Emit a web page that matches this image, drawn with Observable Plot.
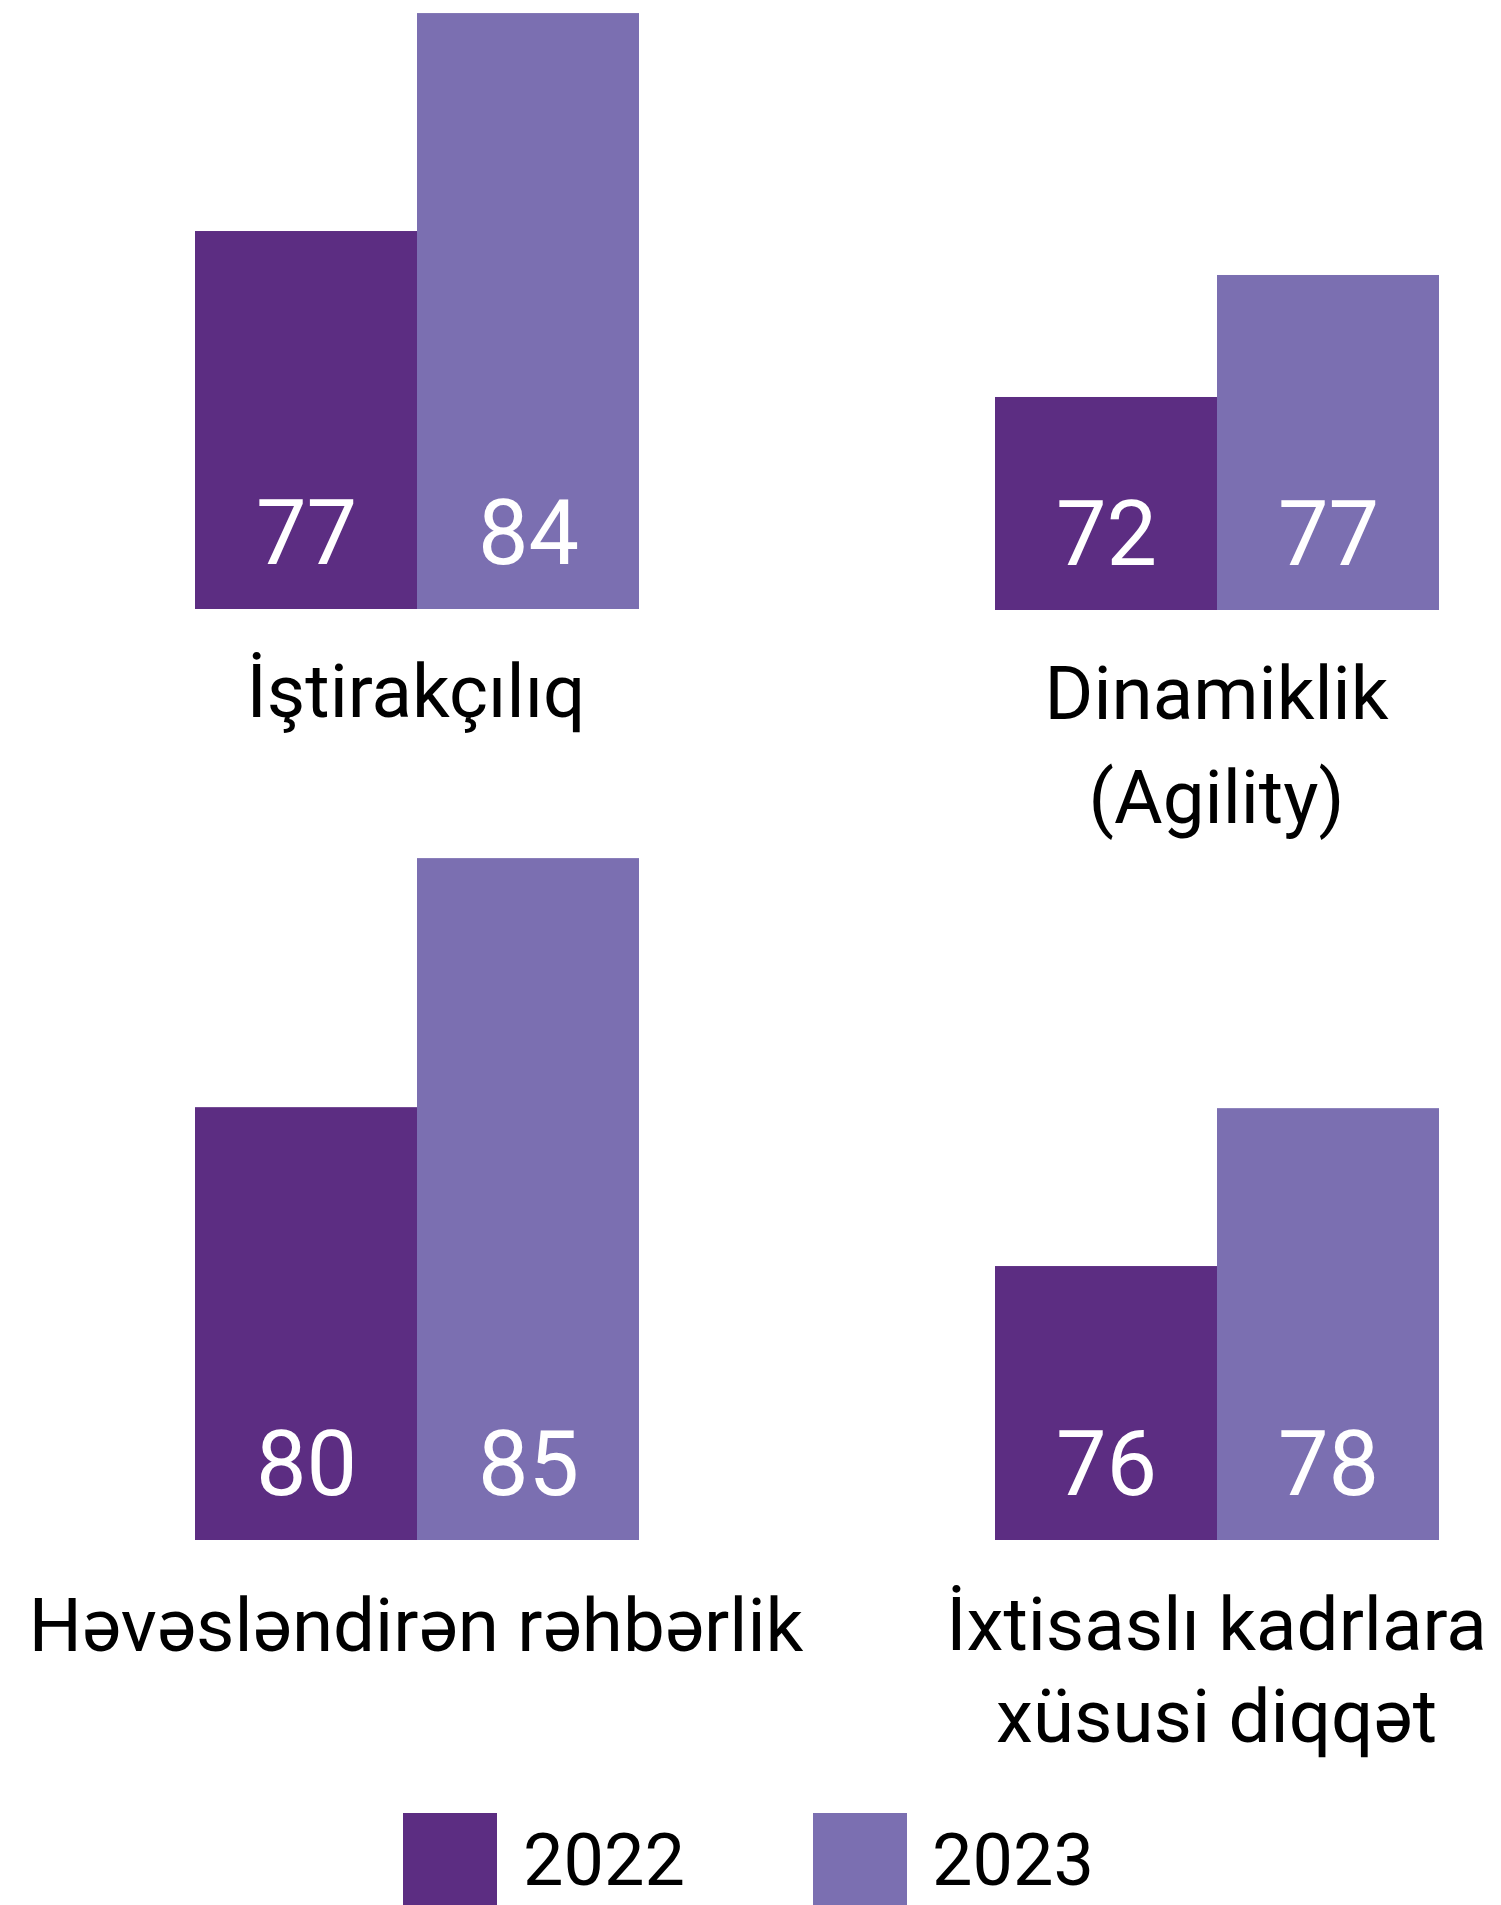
<!DOCTYPE html>
<html>
<head>
<meta charset="utf-8">
<script src="https://cdn.jsdelivr.net/npm/d3@7"></script>
<script src="https://cdn.jsdelivr.net/npm/@observablehq/plot@0.6"></script>
<style>
  html, body { margin: 0; padding: 0; background: #fff; }
  #page { position: relative; width: 1501px; height: 1905px; overflow: hidden; background: #fff;
          font-family: Roboto, "Noto Sans", sans-serif; color: #000; }
  .panel { position: absolute; }
  .label { position: absolute; width: 900px; text-align: center; font-size: 74.5px; white-space: pre; }
  .sw { position: absolute; width: 94px; height: 100px; }
  .lt { position: absolute; font-size: 72px; line-height: 80px; }
</style>
</head>
<body>
<div id="page"></div>
<script>
// ---- data ----
const categories = ["İştirakçılıq", "Dinamiklik\n(Agility)", "Həvəsləndirən rəhbərlik", "İxtisaslı kadrlara\nxüsusi diqqət"];
const years = ["2022", "2023"];
const values2022 = [77, 72, 80, 76];
const values2023 = [84, 77, 85, 78];
// each panel of the original uses its own (truncated) value axis
const yDomainMin = [64.86, 63.27, 71.31, 72.53];
const yDomainMax = [84.42, 88.27, 86.97, 82.41];
const colors = ["#5c2d82", "#7b6fb1"];

// ---- layout ----
const panelLeft = [193.5, 994, 193.5, 994];
const panelTop = [0, 0, 760, 760];
const panelHeight = [609, 610, 780, 780];
const panelWidth = 445;
const labelTop = [640, 642, 1580, 1579];
const labelLineHeight = [104, 104, 92, 92];

const page = document.getElementById("page");
const font = "Roboto, 'Noto Sans', sans-serif";

categories.forEach((cat, i) => {
  const data = years.map((yr, j) => ({year: yr, value: j === 0 ? values2022[i] : values2023[i]}));
  const lo = yDomainMin[i];
  const chart = Plot.plot({
    width: panelWidth,
    height: panelHeight[i],
    margin: 0,
    style: {fontFamily: font, background: "transparent", overflow: "visible"},
    x: {domain: years, padding: 0, axis: null},
    y: {domain: [lo, yDomainMax[i]], axis: null},
    color: {domain: years, range: colors},
    marks: [
      Plot.barY(data, {x: "year", y1: () => lo, y2: "value", fill: "year", inset: 0}),
      Plot.text(data, {x: "year", text: d => String(d.value), frameAnchor: "bottom", lineAnchor: "bottom",
                       dy: -46, fill: "white", fontSize: 90, fontFamily: font})
    ]
  });
  const wrap = document.createElement("div");
  wrap.className = "panel";
  wrap.style.left = panelLeft[i] + "px";
  wrap.style.top = panelTop[i] + "px";
  wrap.appendChild(chart);
  page.appendChild(wrap);

  const lab = document.createElement("div");
  lab.className = "label";
  lab.textContent = cat;
  lab.style.left = (panelLeft[i] + panelWidth / 2 - 450) + "px";
  lab.style.top = labelTop[i] + "px";
  lab.style.lineHeight = labelLineHeight[i] + "px";
  page.appendChild(lab);
});

// ---- legend ----
const legendSwatchLeft = [403, 813];
const legendTextLeft = [523, 932];
years.forEach((yr, j) => {
  const sw = document.createElement("div");
  sw.className = "sw";
  sw.style.left = legendSwatchLeft[j] + "px";
  sw.style.top = "1813px";
  sw.style.background = colors[j];
  page.appendChild(sw);
  const t = document.createElement("div");
  t.className = "lt";
  t.textContent = yr;
  t.style.left = legendTextLeft[j] + "px";
  t.style.top = "1821px";
  page.appendChild(t);
});
</script>
</body>
</html>
